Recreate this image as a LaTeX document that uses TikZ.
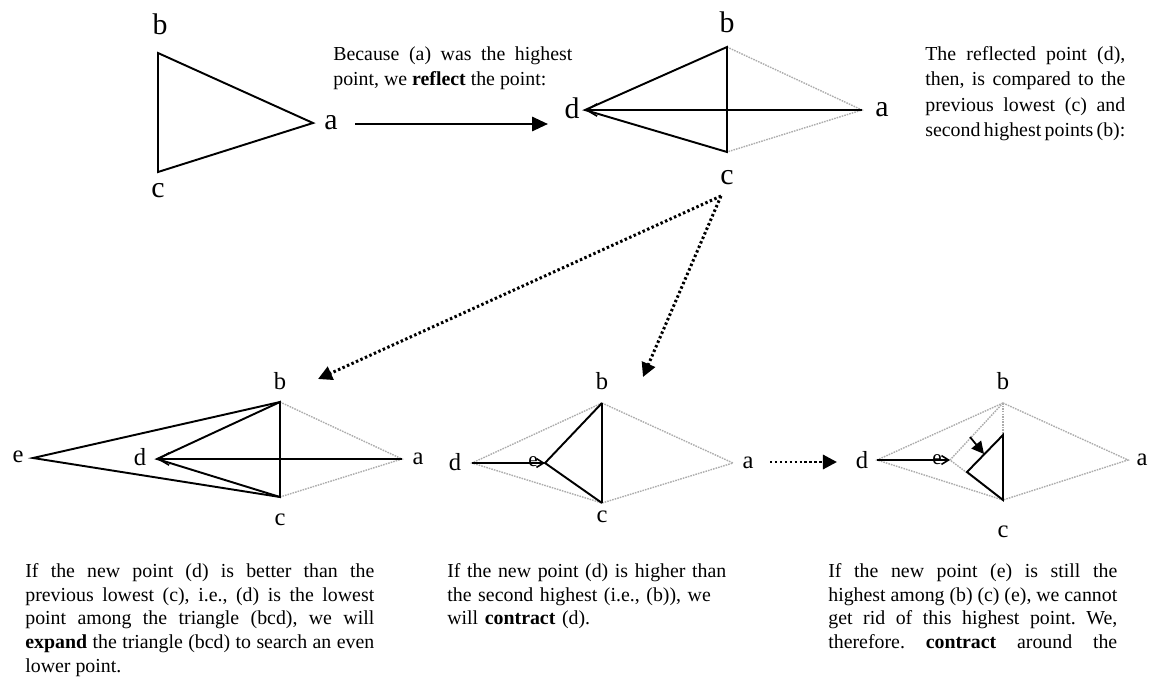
\documentclass[tikz,border=0pt]{standalone}
\usepackage{fontspec}
\setmainfont{Liberation Serif}
\usetikzlibrary{arrows.meta}
\frenchspacing
\begin{document}
\begin{tikzpicture}[x=0.02cm,y=-0.02cm,
  solidln/.style={line width=1.1pt,black,line join=miter},
  dotln/.style={line width=0.8pt,gray!65,dash pattern=on 0.9pt off 0.6pt},
  dotarrow/.style={line width=1.7pt,dash pattern=on 1.4pt off 1.4pt,-{Triangle[length=8pt,width=8pt]}},
  bigarrow/.style={line width=1.4pt,-{Triangle[length=9pt,width=8pt]}},
  openarr/.style={-{Straight Barb[length=6pt,width=7pt,line width=0.9pt]}},
  smallarr/.style={-{Straight Barb[length=4pt,width=5pt,line width=0.9pt]}},
  lbl/.style={font=\fontsize{17}{17}\selectfont,inner sep=0pt},
  slbl/.style={font=\fontsize{14}{14}\selectfont,inner sep=0pt},
  elbl/.style={font=\fontsize{12}{12}\selectfont,inner sep=0pt},
  txt/.style={font=\fontsize{11.3}{14.5}\selectfont,inner sep=0pt,anchor=north west,align=justify,text width=#1},
  btxt/.style={font=\fontsize{11.3}{13.5}\selectfont,inner sep=0pt,anchor=north west,align=justify,text width=#1},
]
\useasboundingbox (0,0) rectangle (1155,679);

% ---------- top-left triangle ----------
\coordinate (Pb) at (158,53);
\coordinate (Pc) at (158,172);
\coordinate (Pa) at (313,123);
\draw[solidln] (Pb) -- (Pc) -- (Pa) -- cycle;
\node[lbl] (Lpb) at (160,24) {b};
\node[lbl] (Lpc) at (158,191) {c};
\node[lbl] (Lpa) at (331,123) {a};

\node[txt=4.78cm] (T1) at (333,46) {Because (a) was the highest\linebreak point, we \textbf{reflect} the point:};

\coordinate (R1) at (355,124);
\coordinate (R2) at (548,124);
\draw[bigarrow] (R1) -- (R2);

% ---------- top-right diamond ----------
\coordinate (Qb) at (727,47);
\coordinate (Qc) at (727,152);
\coordinate (Qd) at (585,110);
\coordinate (Qa) at (862,110);
\draw[dotln] (Qb) -- (Qa) -- (Qc);
\draw[solidln] (Qd) -- (Qb) -- (Qc) -- cycle;
\draw[solidln,openarr] (Qa) -- (Qd);
\node[lbl] (Lqb) at (727,22) {b};
\node[lbl] (Lqc) at (727,178) {c};
\node[lbl] (Lqd) at (572,108) {d};
\node[lbl] (Lqa) at (882,110) {a};

\node[txt=4.0cm] (T2) at (925,46) {The reflected point (d),\linebreak then, is compared to the\linebreak previous lowest (c) and\linebreak second highest points (b):};

% ---------- dotted arrows ----------
\coordinate (S0) at (721,196);
\coordinate (S1) at (318,379);
\coordinate (S2) at (643,377);
\draw[dotarrow] (S0) -- (S1);
\draw[dotarrow] (S0) -- (S2);

% ---------- bottom-left (expand) ----------
\coordinate (Cb) at (280,402);
\coordinate (Cc) at (280,497);
\coordinate (Ca) at (402,459);
\coordinate (Cd) at (157,459);
\coordinate (Ce) at (33,458);
\draw[dotln] (Cb) -- (Ca) -- (Cc);
\draw[solidln] (Cb) -- (Ce) -- (Cc);
\draw[solidln] (Cd) -- (Cb) -- (Cc) -- cycle;
\draw[solidln,openarr] (Ca) -- (Cd);
\node[slbl] (Lce) at (18,457) {e};
\node[slbl] (Lcd) at (140,457) {d};
\node[slbl] (Lcb) at (280,381) {b};
\node[slbl] (Lca) at (418,459) {a};
\node[slbl] (Lcc) at (280,520) {c};

% ---------- bottom-middle (contract) ----------
\coordinate (Db) at (602,403);
\coordinate (Dc) at (602,503);
\coordinate (Dd) at (472,463);
\coordinate (Da) at (733,463);
\coordinate (De) at (545,463);
\draw[dotln] (Db) -- (Dd) -- (Dc);
\draw[dotln] (Db) -- (Da) -- (Dc);
\draw[solidln] (Db) -- (Dc);
\draw[solidln] (Db) -- (De) -- (Dc);
\draw[solidln,smallarr] (Dd) -- (De);
\node[slbl] (Ldd) at (455,462) {d};
\node[slbl] (Lda) at (748,463) {a};
\node[slbl] (Ldb) at (602,381) {b};
\node[slbl] (Ldc) at (602,517) {c};
\node[elbl] (Lde) at (533,462) {e};

% ---------- horizontal dotted arrow ----------
\coordinate (H1) at (770,462);
\coordinate (H2) at (837,462);
\draw[dotarrow] (H1) -- (H2);

% ---------- bottom-right (contract around) ----------
\coordinate (Eb) at (1003,403);
\coordinate (Ec) at (1003,500);
\coordinate (Ed) at (877,460);
\coordinate (Ea) at (1128,460);
\coordinate (Ee) at (950,460);
\coordinate (Et) at (1003,435);
\coordinate (Eu) at (967,472);
\draw[dotln] (Eb) -- (Ed) -- (Ec);
\draw[dotln] (Eb) -- (Ea) -- (Ec);
\draw[dotln] (Eb) -- (Ec);
\draw[dotln] (Eb) -- (Ee) -- (Ec);
\draw[solidln] (Et) -- (Eu) -- (Ec) -- cycle;
\draw[solidln,smallarr] (Ed) -- (Ee);
\coordinate (K1) at (970,437);
\coordinate (K2) at (984,454);
\draw[line width=1pt,-{Triangle[length=7pt,width=7pt]}] (K1) -- (K2);
\node[slbl] (Led) at (862,460) {d};
\node[slbl] (Lea) at (1142,460) {a};
\node[slbl] (Leb) at (1003,381) {b};
\node[slbl] (Lec) at (1003,532) {c};
\node[elbl] (Lee) at (937,460) {e};

% ---------- bottom texts ----------
\node[btxt=6.98cm] (B1) at (25,563) {If the new point (d) is better than the\linebreak previous lowest (c), i.e., (d) is the lowest\linebreak point among the triangle (bcd), we will\linebreak \textbf{expand} the triangle (bcd) to search an even\linebreak lower point.};

\node[btxt=5.6cm,align=left] (B2) at (447,563) {If the new point (d) is higher than\\ the second highest (i.e., (b)), we\\ will \textbf{contract} (d).};

\node[btxt=5.78cm] (B3) at (828,563) {If the new point (e) is still the\linebreak highest among (b) (c) (e), we cannot\linebreak get rid of this highest point. We,\linebreak \makebox[\linewidth][s]{therefore. \textbf{contract} around the}};
\end{tikzpicture}
\end{document}
